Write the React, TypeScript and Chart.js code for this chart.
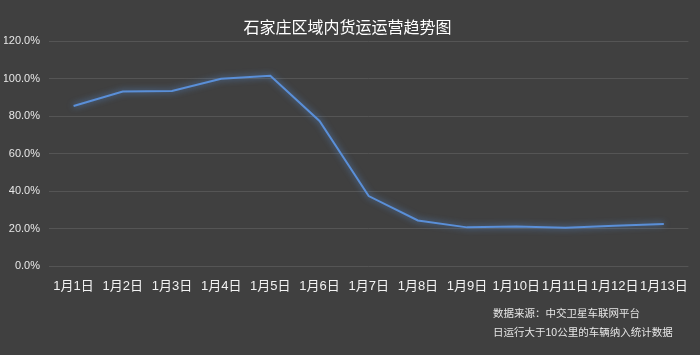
import React, { useEffect, useRef } from "react";
import { Chart, registerables } from "chart.js";

Chart.register(...registerables);

const title = "石家庄区域内货运运营趋势图";
const categories = ["1月1日", "1月2日", "1月3日", "1月4日", "1月5日", "1月6日", "1月7日", "1月8日", "1月9日", "1月10日", "1月11日", "1月12日", "1月13日"];
const values = [85.5, 93.2, 93.5, 100.0, 101.6, 77.5, 37.5, 24.5, 20.8, 21.2, 20.6, 21.6, 22.6];
const footnotes = ["数据来源：中交卫星车联网平台", "日运行大于10公里的车辆纳入统计数据"];

const FONT = "'Liberation Sans', 'Noto Sans CJK SC', sans-serif";

const glowPlugin = {
  id: "glow",
  beforeDatasetsDraw(chart: any) {
    const ctx = chart.ctx;
    ctx.save();
    ctx.shadowColor = "rgba(90,150,230,0.8)";
    ctx.shadowBlur = 6;
  },
  afterDatasetsDraw(chart: any) {
    chart.ctx.restore();
  },
};

const footPlugin = {
  id: "foot",
  afterDraw(chart: any) {
    const ctx = chart.ctx;
    ctx.save();
    ctx.fillStyle = "#e6e6e6";
    ctx.font = "10.5px " + FONT;
    ctx.textBaseline = "middle";
    ctx.textAlign = "left";
    ctx.fillText(footnotes[0], 493, 314);
    ctx.fillText(footnotes[1], 493, 333);
    ctx.restore();
  },
};

export default function App() {
  const ref = useRef<HTMLCanvasElement>(null);
  useEffect(() => {
    const chart = new Chart(ref.current!, {
      type: "line",
      data: {
        labels: categories,
        datasets: [
          {
            data: values,
            borderColor: "#5a8fd8",
            borderWidth: 2,
            pointRadius: 0,
            tension: 0,
            fill: false,
          },
        ],
      },
      options: {
        responsive: false,
        animation: false,
        layout: { padding: { left: 4, right: 9, top: 19, bottom: 49 } },
        plugins: {
          legend: { display: false },
          tooltip: { enabled: false },
          title: {
            display: true,
            text: title,
            color: "#ffffff",
            font: { family: FONT, size: 16, weight: "normal" },
            padding: { top: 0, bottom: 3 },
          },
        },
        scales: {
          x: {
            offset: true,
            grid: { display: false, drawTicks: false },
            border: { display: false },
            ticks: {
              color: "#f2f2f2",
              font: { family: FONT, size: 13 },
              maxRotation: 0,
              autoSkip: false,
              padding: 12,
            },
          },
          y: {
            min: 0,
            max: 120,
            afterFit: (scale: any) => {
              scale.width = 45;
            },
            grid: { color: "#555555", drawTicks: false, lineWidth: 1 },
            border: { display: false },
            ticks: {
              stepSize: 20,
              color: "#e6e6e6",
              font: { family: FONT, size: 11 },
              padding: 9,
              callback: (v: any) => Number(v).toFixed(1) + "%",
            },
          },
        },
      },
      plugins: [glowPlugin, footPlugin],
    });
    return () => chart.destroy();
  }, []);
  return (
    <div style={{ position: "absolute", left: 0, top: 0, width: 700, height: 355, background: "#404040" }}>
      <canvas ref={ref} width={700} height={355} />
    </div>
  );
}
